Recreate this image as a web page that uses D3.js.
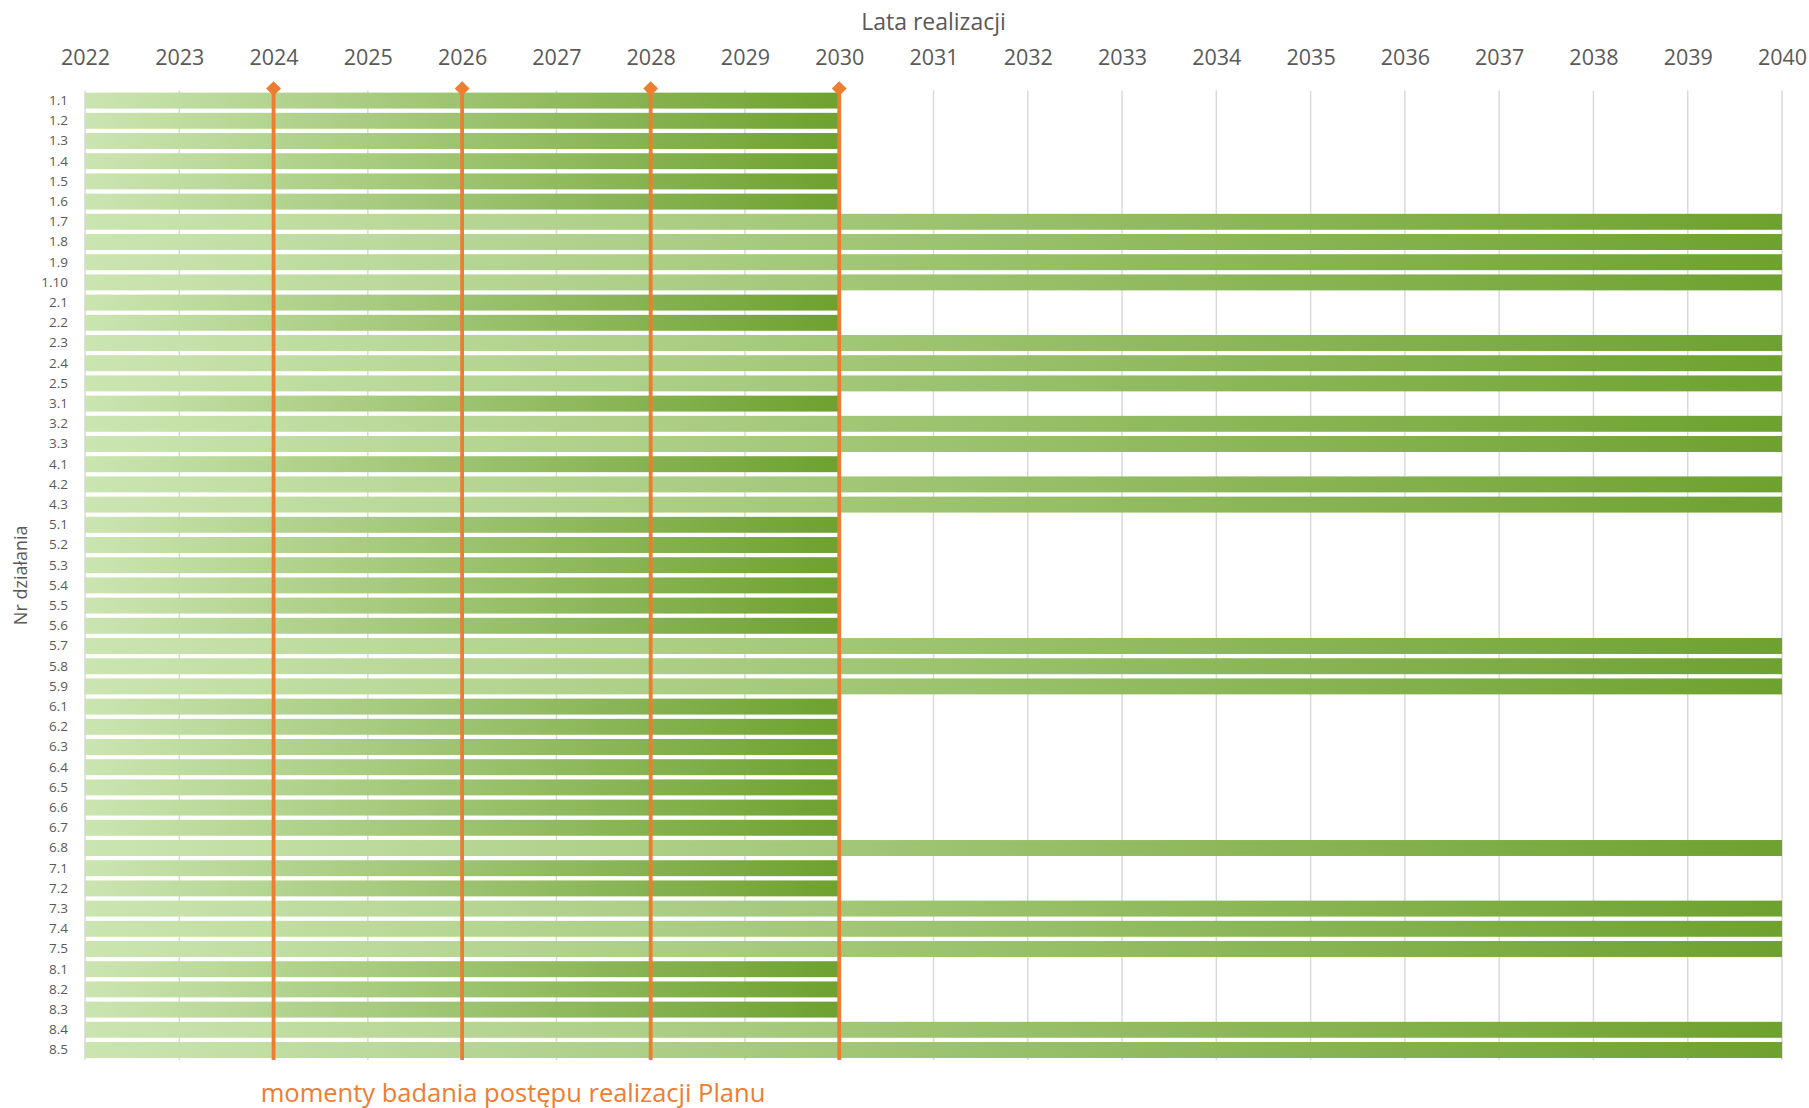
<!DOCTYPE html>
<html>
<head>
<meta charset="utf-8">
<script src="https://cdn.jsdelivr.net/npm/d3@7"></script>
<style>
  body { margin: 0; background: #fff; }
  text { font-family: "Open Sans", sans-serif; }
</style>
</head>
<body>
<div id="chart"></div>
<script>
// action numbers (rows, top to bottom)
const actions = [
  "1.1","1.2","1.3","1.4","1.5","1.6","1.7","1.8","1.9","1.10",
  "2.1","2.2","2.3","2.4","2.5",
  "3.1","3.2","3.3",
  "4.1","4.2","4.3",
  "5.1","5.2","5.3","5.4","5.5","5.6","5.7","5.8","5.9",
  "6.1","6.2","6.3","6.4","6.5","6.6","6.7","6.8",
  "7.1","7.2","7.3","7.4","7.5",
  "8.1","8.2","8.3","8.4","8.5"
];
// start and end year of each action
const startYears = actions.map(() => 2022);
const endYears = [
  2030,2030,2030,2030,2030,2030,2040,2040,2040,2040,
  2030,2030,2040,2040,2040,
  2030,2040,2040,
  2030,2040,2040,
  2030,2030,2030,2030,2030,2030,2040,2040,2040,
  2030,2030,2030,2030,2030,2030,2030,2040,
  2030,2030,2040,2040,2040,
  2030,2030,2030,2040,2040
];
const yearTicks = d3.range(2022, 2041);
// progress review moments
const reviewYears = [2024, 2026, 2028, 2030];

const width = 1809, height = 1108;
const margin = { top: 90.6, right: 27, bottom: 48, left: 85 };

const svg = d3.select("#chart")
  .append("svg")
  .attr("width", width)
  .attr("height", height);

const x = d3.scaleLinear()
  .domain([2022, 2040])
  .range([margin.left, width - margin.right]);

const y = d3.scaleBand()
  .domain(actions)
  .range([margin.top, height - margin.bottom])
  .paddingInner(0.21)
  .paddingOuter(0.1);

const grad = svg.append("defs").append("linearGradient")
  .attr("id", "barGrad")
  .attr("x1", "0%").attr("x2", "100%")
  .attr("y1", "0%").attr("y2", "0%");
grad.append("stop").attr("offset", "0%").attr("stop-color", "#cbe5b1");
grad.append("stop").attr("offset", "100%").attr("stop-color", "#6ea12f");

// vertical gridlines
svg.append("g")
  .selectAll("line")
  .data(yearTicks)
  .join("line")
  .attr("x1", d => x(d)).attr("x2", d => x(d))
  .attr("y1", margin.top).attr("y2", height - margin.bottom)
  .attr("stroke", "#d9d9d9")
  .attr("stroke-width", 1.5);

// year labels on top
const xAxis = svg.append("g")
  .attr("transform", `translate(0,${margin.top - 23})`)
  .call(d3.axisTop(x).tickValues(yearTicks).tickFormat(d3.format("d")).tickSize(0));
xAxis.select(".domain").remove();
xAxis.selectAll("text")
  .attr("fill", "#595959")
  .style("font-size", "21.5px");

svg.append("text")
  .attr("x", (x(2022) + x(2040)) / 2)
  .attr("y", 30)
  .attr("text-anchor", "middle")
  .attr("fill", "#595959")
  .style("font-size", "23px")
  .text("Lata realizacji");

// row labels
const yAxis = svg.append("g")
  .attr("transform", `translate(${margin.left - 14},0)`)
  .call(d3.axisLeft(y).tickSize(0));
yAxis.select(".domain").remove();
yAxis.selectAll("text")
  .attr("fill", "#595959")
  .style("font-size", "13.5px");

svg.append("text")
  .attr("transform", `translate(27,${(margin.top + height - margin.bottom) / 2}) rotate(-90)`)
  .attr("text-anchor", "middle")
  .attr("fill", "#595959")
  .style("font-size", "18px")
  .text("Nr działania");

// bars
svg.append("g")
  .selectAll("rect")
  .data(actions)
  .join("rect")
  .attr("x", (d, i) => x(startYears[i]))
  .attr("y", d => y(d))
  .attr("width", (d, i) => x(endYears[i]) - x(startYears[i]))
  .attr("height", y.bandwidth())
  .attr("fill", "url(#barGrad)");

// review moments
const review = svg.append("g");
review.selectAll("line")
  .data(reviewYears)
  .join("line")
  .attr("x1", d => x(d)).attr("x2", d => x(d))
  .attr("y1", margin.top - 2).attr("y2", height - margin.bottom)
  .attr("stroke", "#ed7d31")
  .attr("stroke-width", 3.8);
review.selectAll("path")
  .data(reviewYears)
  .join("path")
  .attr("transform", d => `translate(${x(d)},${margin.top - 2})`)
  .attr("d", d3.symbol(d3.symbolDiamond2, 140))
  .attr("fill", "#ed7d31");

svg.append("text")
  .attr("x", 513)
  .attr("y", 1102)
  .attr("text-anchor", "middle")
  .attr("fill", "#ed7d31")
  .style("font-size", "25.5px")
  .text("momenty badania postępu realizacji Planu");
</script>
</body>
</html>
